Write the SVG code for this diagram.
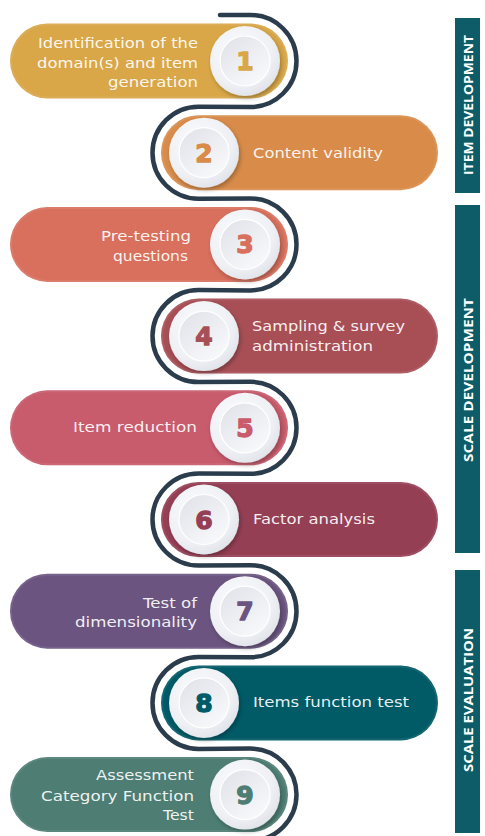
<svg xmlns="http://www.w3.org/2000/svg" width="485" height="836" viewBox="0 0 485 836">
  <style>
    .lbl { font-family: "DejaVu Sans", "Open Sans", sans-serif; font-size: 13.5px; fill: #ffffff; fill-opacity: 0.92; }
    .end { text-anchor: end; }
    .num { font-family: "DejaVu Sans", "Open Sans", sans-serif; font-size: 25px; font-weight: 700; text-anchor: middle; stroke-width: 1.3; stroke-linejoin: round; }
    .disc { fill: url(#discOuter); filter: url(#discShadow); }
    .inner { fill: url(#discInner); stroke: #ffffff; stroke-width: 1.2; }
    .rim { fill: none; stroke: #ffffff; stroke-opacity: 0.08; stroke-width: 2; }
    .band { fill: #0e5c67; }
    .bandtxt { font-family: "Open Sans", "Liberation Sans", sans-serif; font-size: 12px; font-weight: 700; fill: #ffffff; text-anchor: middle; dominant-baseline: central; }
    .path { fill: none; stroke: #2b3c4c; stroke-width: 4.5; stroke-linecap: round; }
  </style>
  <defs>
    <radialGradient id="discOuter" cx="0.4" cy="0.35" r="0.7">
      <stop offset="0" stop-color="#fbfbfd"/>
      <stop offset="0.7" stop-color="#eef0f4"/>
      <stop offset="1" stop-color="#dfe2e8"/>
    </radialGradient>
    <linearGradient id="discInner" x1="0.2" y1="0.1" x2="0.8" y2="0.9">
      <stop offset="0" stop-color="#e3e5eb"/>
      <stop offset="1" stop-color="#f7f8fa"/>
    </linearGradient>
    <filter id="discShadow" x="-30%" y="-30%" width="160%" height="160%">
      <feDropShadow dx="1.5" dy="2.5" stdDeviation="2" flood-color="#000000" flood-opacity="0.28"/>
    </filter>
  </defs>

  <!-- winding line behind the steps -->
  <g id="connectors">
    <path class="path" d="M 220 15 H 250.5 A 46 46 0 0 1 250.5 107 L 198.5 106.7 A 46 46 0 0 0 198.5 198.7 L 250.5 198.4 A 46 46 0 0 1 250.5 290.4 L 198.5 290.1 A 46 46 0 0 0 198.5 382.1 L 250.5 381.8 A 46 46 0 0 1 250.5 473.8 L 198.5 473.5 A 46 46 0 0 0 198.5 565.5 L 250.5 565.2 A 46 46 0 0 1 250.5 657.2 L 198.5 656.9 A 46 46 0 0 0 198.5 748.9 L 250.5 748.6 A 46 46 0 0 1 250.5 840.6"/>
  </g>

  <!-- step 1 -->
  <g id="step1">
    <rect x="10" y="23.5" width="278" height="75" rx="37.5" fill="#d9a748"/>
    <rect class="rim" x="11" y="24.5" width="276" height="73" rx="36.5"/>
    <circle class="disc" cx="245" cy="61" r="35"/>
    <circle class="inner" cx="245" cy="61" r="25"/>
    <text class="num" x="245" y="70" fill="#d9a748" stroke="#d9a748">1</text>
    <text class="lbl end" x="198" y="48" textLength="160" lengthAdjust="spacingAndGlyphs">Identification of the</text>
    <text class="lbl end" x="198" y="68" textLength="161" lengthAdjust="spacingAndGlyphs">domain(s) and item</text>
    <text class="lbl end" x="198" y="87" textLength="90" lengthAdjust="spacingAndGlyphs">generation</text>
  </g>

  <!-- step 2 -->
  <g id="step2">
    <rect x="161" y="115.2" width="277" height="75" rx="37.5" fill="#d98c4a"/>
    <rect class="rim" x="162" y="116.2" width="275" height="73" rx="36.5"/>
    <circle class="disc" cx="204" cy="152.7" r="35"/>
    <circle class="inner" cx="204" cy="152.7" r="25"/>
    <text class="num" x="204" y="161.7" fill="#d98c4a" stroke="#d98c4a">2</text>
    <text class="lbl" x="253" y="158" textLength="130" lengthAdjust="spacingAndGlyphs">Content validity</text>
  </g>

  <!-- step 3 -->
  <g id="step3">
    <rect x="10" y="206.9" width="278" height="75" rx="37.5" fill="#d8705d"/>
    <rect class="rim" x="11" y="207.9" width="276" height="73" rx="36.5"/>
    <circle class="disc" cx="245" cy="244.4" r="35"/>
    <circle class="inner" cx="245" cy="244.4" r="25"/>
    <text class="num" x="245" y="253.4" fill="#d8705d" stroke="#d8705d">3</text>
    <text class="lbl end" x="191" y="241" textLength="90" lengthAdjust="spacingAndGlyphs">Pre-testing</text>
    <text class="lbl end" x="188" y="261" textLength="75" lengthAdjust="spacingAndGlyphs">questions</text>
  </g>

  <!-- step 4 -->
  <g id="step4">
    <rect x="161" y="298.6" width="277" height="75" rx="37.5" fill="#a84f56"/>
    <rect class="rim" x="162" y="299.6" width="275" height="73" rx="36.5"/>
    <circle class="disc" cx="204" cy="336.1" r="35"/>
    <circle class="inner" cx="204" cy="336.1" r="25"/>
    <text class="num" x="204" y="345.1" fill="#a84f56" stroke="#a84f56">4</text>
    <text class="lbl" x="252" y="331" textLength="153" lengthAdjust="spacingAndGlyphs">Sampling &amp; survey</text>
    <text class="lbl" x="252" y="351" textLength="121" lengthAdjust="spacingAndGlyphs">administration</text>
  </g>

  <!-- step 5 -->
  <g id="step5">
    <rect x="10" y="390.3" width="278" height="75" rx="37.5" fill="#c85b6c"/>
    <rect class="rim" x="11" y="391.3" width="276" height="73" rx="36.5"/>
    <circle class="disc" cx="245" cy="427.8" r="35"/>
    <circle class="inner" cx="245" cy="427.8" r="25"/>
    <text class="num" x="245" y="436.8" fill="#c85b6c" stroke="#c85b6c">5</text>
    <text class="lbl end" x="197" y="432" textLength="124" lengthAdjust="spacingAndGlyphs">Item reduction</text>
  </g>

  <!-- step 6 -->
  <g id="step6">
    <rect x="161" y="482" width="277" height="75" rx="37.5" fill="#953f55"/>
    <rect class="rim" x="162" y="483" width="275" height="73" rx="36.5"/>
    <circle class="disc" cx="204" cy="519.5" r="35"/>
    <circle class="inner" cx="204" cy="519.5" r="25"/>
    <text class="num" x="204" y="528.5" fill="#953f55" stroke="#953f55">6</text>
    <text class="lbl" x="253" y="524" textLength="122" lengthAdjust="spacingAndGlyphs">Factor analysis</text>
  </g>

  <!-- step 7 -->
  <g id="step7">
    <rect x="10" y="573.7" width="278" height="75" rx="37.5" fill="#6b5580"/>
    <rect class="rim" x="11" y="574.7" width="276" height="73" rx="36.5"/>
    <circle class="disc" cx="245" cy="611.2" r="35"/>
    <circle class="inner" cx="245" cy="611.2" r="25"/>
    <text class="num" x="245" y="620.2" fill="#6b5580" stroke="#6b5580">7</text>
    <text class="lbl end" x="197" y="608" textLength="54" lengthAdjust="spacingAndGlyphs">Test of</text>
    <text class="lbl end" x="197" y="627" textLength="122" lengthAdjust="spacingAndGlyphs">dimensionality</text>
  </g>

  <!-- step 8 -->
  <g id="step8">
    <rect x="161" y="665.4" width="277" height="75" rx="37.5" fill="#005b67"/>
    <rect class="rim" x="162" y="666.4" width="275" height="73" rx="36.5"/>
    <circle class="disc" cx="204" cy="702.9" r="35"/>
    <circle class="inner" cx="204" cy="702.9" r="25"/>
    <text class="num" x="204" y="711.9" fill="#005b67" stroke="#005b67">8</text>
    <text class="lbl" x="253" y="707" textLength="156" lengthAdjust="spacingAndGlyphs">Items function test</text>
  </g>

  <!-- step 9 -->
  <g id="step9">
    <rect x="10" y="757.1" width="278" height="75" rx="37.5" fill="#4e7d74"/>
    <rect class="rim" x="11" y="758.1" width="276" height="73" rx="36.5"/>
    <circle class="disc" cx="245" cy="794.6" r="35"/>
    <circle class="inner" cx="245" cy="794.6" r="25"/>
    <text class="num" x="245" y="803.6" fill="#4e7d74" stroke="#4e7d74">9</text>
    <text class="lbl end" x="194" y="780" textLength="98" lengthAdjust="spacingAndGlyphs">Assessment</text>
    <text class="lbl end" x="194" y="801" textLength="153" lengthAdjust="spacingAndGlyphs">Category Function</text>
    <text class="lbl end" x="194" y="820" textLength="31" lengthAdjust="spacingAndGlyphs">Test</text>
  </g>

  <!-- phase bands -->
  <g id="phase-item">
    <rect class="band" x="455" y="18" width="25" height="175"/>
    <text class="bandtxt" transform="translate(468 105) rotate(-90)" textLength="140" lengthAdjust="spacingAndGlyphs">ITEM DEVELOPMENT</text>
  </g>
  <g id="phase-scale-dev">
    <rect class="band" x="455" y="205" width="25" height="348"/>
    <text class="bandtxt" transform="translate(468 380) rotate(-90)" textLength="164" lengthAdjust="spacingAndGlyphs">SCALE DEVELOPMENT</text>
  </g>
  <g id="phase-scale-eval">
    <rect class="band" x="455" y="570" width="25" height="263"/>
    <text class="bandtxt" transform="translate(468 700) rotate(-90)" textLength="144" lengthAdjust="spacingAndGlyphs">SCALE EVALUATION</text>
  </g>
</svg>
